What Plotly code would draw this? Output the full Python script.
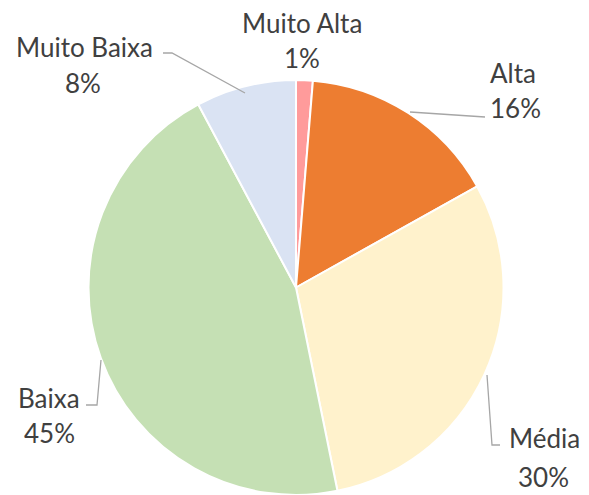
import plotly.graph_objects as go

categories = ["Muito Alta", "Alta", "Média", "Baixa", "Muito Baixa"]
values = [1.3, 15.6, 29.9, 45.4, 7.8]
colors = ["#FF9B9B", "#ED7D31", "#FFF2CC", "#C5E0B4", "#DAE3F3"]

OFF = 8  # page body margin
W, H = 589 - OFF, 495 - OFF
total = sum(values)
pcts = [f"{round(v / total * 100)}%" for v in values]

def px(x):
    return (x - OFF) / W

def py(y):
    return min(1, max(0, 1 - (y - OFF) / H))

fig = go.Figure(go.Pie(
    labels=categories, values=values, sort=False, direction="clockwise",
    rotation=0, marker=dict(colors=colors, line=dict(color="white", width=2)),
    textinfo="none", hoverinfo="label+percent", showlegend=False,
    domain=dict(x=[px(88), px(504)], y=[py(496), py(80)]),
))

# label layout (name center, pct center) in pixels
label_pos = {
    "Muito Alta": ((302, 22), (302, 57)),
    "Alta": ((513, 72), (515, 107)),
    "Média": ((544, 437), (543, 476)),
    "Baixa": ((49, 397), (49, 432)),
    "Muito Baixa": ((84, 46), (83, 82)),
}
leaders = {
    "Alta": [(410, 112), (485, 117)],
    "Média": [(487, 375), (492, 445), (500, 445)],
    "Baixa": [(101, 360), (97, 405), (86, 405)],
    "Muito Baixa": [(245, 93), (172, 53), (163, 53)],
}

font = dict(family="Lato, Carlito, sans-serif", size=26, color="#404040")
anns = []
for cat, pct in zip(categories, pcts):
    (nx, ny), (qx, qy) = label_pos[cat]
    anns.append(dict(x=px(nx), y=py(ny + 1), xref="paper", yref="paper", text=cat,
                     showarrow=False, xanchor="center", yanchor="middle", font=font))
    anns.append(dict(x=px(qx), y=py(qy + 1), xref="paper", yref="paper", text=pct,
                     showarrow=False, xanchor="center", yanchor="middle", font=font))

shapes = []
for cat, pts in leaders.items():
    path = "M " + " L ".join(f"{px(x)},{py(y)}" for x, y in pts)
    shapes.append(dict(type="path", path=path, xref="paper", yref="paper",
                       line=dict(color="#A6A6A6", width=1.3)))

fig.update_layout(
    width=W, height=H, margin=dict(l=0, r=0, t=0, b=0),
    paper_bgcolor="white", plot_bgcolor="white",
    annotations=anns, shapes=shapes,
)

fig.write_html("out.html")
